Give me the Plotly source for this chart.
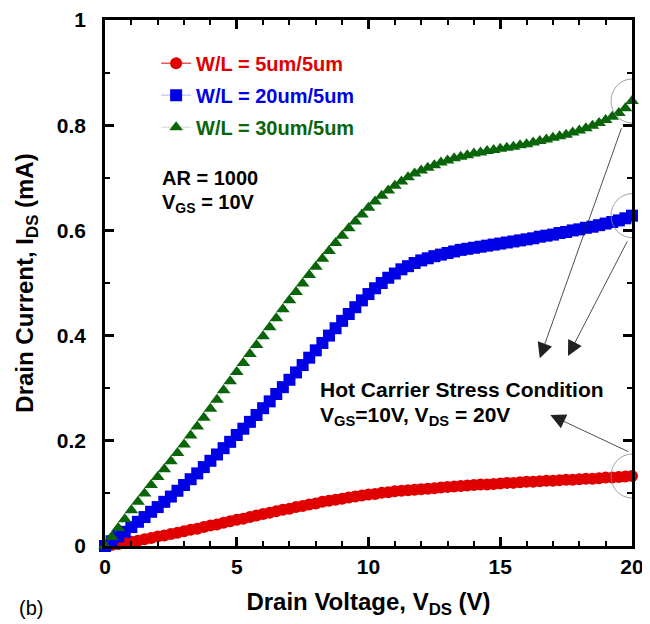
import plotly.graph_objects as go

# ---------------- data ----------------
V_DS = [0, 0.25, 0.5, 0.75, 1, 1.25, 1.5, 1.75, 2, 2.25, 2.5, 2.75, 3, 3.25, 3.5, 3.75,
        4, 4.25, 4.5, 4.75, 5, 5.25, 5.5, 5.75, 6, 6.25, 6.5, 6.75, 7, 7.25, 7.5, 7.75,
        8, 8.25, 8.5, 8.75, 9, 9.25, 9.5, 9.75, 10, 10.25, 10.5, 10.75, 11, 11.25, 11.5, 11.75,
        12, 12.25, 12.5, 12.75, 13, 13.25, 13.5, 13.75, 14, 14.25, 14.5, 14.75, 15, 15.25, 15.5, 15.75,
        16, 16.25, 16.5, 16.75, 17, 17.25, 17.5, 17.75, 18, 18.25, 18.5, 18.75, 19, 19.25, 19.5, 19.75, 20]

I_5_5 = [0.000, 0.002, 0.004, 0.006, 0.008, 0.010, 0.013, 0.015, 0.018, 0.020, 0.023, 0.025,
         0.028, 0.031, 0.033, 0.036, 0.039, 0.041, 0.044, 0.047, 0.050, 0.052, 0.055, 0.058,
         0.061, 0.063, 0.066, 0.069, 0.071, 0.074, 0.076, 0.079, 0.081, 0.084, 0.086, 0.088,
         0.090, 0.092, 0.094, 0.096, 0.098, 0.099, 0.101, 0.102, 0.104, 0.105, 0.106, 0.107,
         0.108, 0.109, 0.110, 0.111, 0.112, 0.113, 0.114, 0.115, 0.116, 0.117, 0.117, 0.118,
         0.119, 0.120, 0.120, 0.121, 0.122, 0.122, 0.123, 0.124, 0.124, 0.125, 0.126, 0.126,
         0.127, 0.128, 0.128, 0.129, 0.130, 0.130, 0.131, 0.132, 0.133]

I_20_5 = [0.000, 0.009, 0.018, 0.027, 0.036, 0.046, 0.055, 0.065, 0.074, 0.084, 0.094, 0.105,
          0.116, 0.127, 0.138, 0.150, 0.162, 0.174, 0.186, 0.198, 0.211, 0.223, 0.236, 0.249,
          0.262, 0.275, 0.289, 0.302, 0.316, 0.330, 0.344, 0.358, 0.372, 0.386, 0.400, 0.414,
          0.428, 0.441, 0.454, 0.467, 0.479, 0.490, 0.500, 0.510, 0.518, 0.526, 0.532, 0.538,
          0.543, 0.547, 0.551, 0.554, 0.557, 0.560, 0.563, 0.565, 0.567, 0.569, 0.571, 0.573,
          0.575, 0.577, 0.579, 0.581, 0.583, 0.585, 0.588, 0.590, 0.592, 0.595, 0.597, 0.600,
          0.602, 0.605, 0.607, 0.610, 0.613, 0.616, 0.619, 0.623, 0.628]

I_30_5 = [0.000, 0.017, 0.034, 0.051, 0.068, 0.084, 0.100, 0.116, 0.131, 0.146, 0.161, 0.177,
          0.193, 0.210, 0.227, 0.244, 0.261, 0.278, 0.296, 0.313, 0.331, 0.348, 0.365, 0.382,
          0.399, 0.416, 0.433, 0.450, 0.467, 0.483, 0.499, 0.515, 0.531, 0.546, 0.561, 0.576,
          0.590, 0.604, 0.617, 0.630, 0.643, 0.655, 0.666, 0.676, 0.685, 0.693, 0.701, 0.708,
          0.714, 0.719, 0.724, 0.729, 0.733, 0.737, 0.740, 0.743, 0.746, 0.748, 0.751, 0.753,
          0.755, 0.757, 0.759, 0.762, 0.764, 0.767, 0.770, 0.773, 0.776, 0.779, 0.782, 0.786,
          0.790, 0.794, 0.799, 0.804, 0.810, 0.816, 0.823, 0.832, 0.846]

SERIES_NAMES = ["W/L = 5um/5um", "W/L = 20um/5um", "W/L = 30um/5um"]
X_TICKS = [0, 5, 10, 15, 20]
Y_TICKS = [0, 0.2, 0.4, 0.6, 0.8, 1]
Y_TICK_TEXT = ["0", "0.2", "0.4", "0.6", "0.8", "1"]

# arrow annotation anchors (tip, tail) in data units
ARROWS = [((16.5, 0.357), (19.62, 0.797)),
          ((17.57, 0.361), (19.85, 0.582)),
          ((16.9, 0.249), (19.92, 0.178))]

# ---------------- styling ----------------
FONT = "Liberation Sans, Arial, Helvetica, sans-serif"
RED = "#e10000"
BLUE = "#0000e6"
GREEN = "#0a640a"

fig = go.Figure()

styles = [
    dict(color=RED, symbol="circle", size=12, line_color=RED),
    dict(color=BLUE, symbol="square", size=12, line_color="rgba(80,80,255,0.45)"),
    dict(color=GREEN, symbol="triangle-up", size=12, line_color="rgba(120,140,120,0.35)"),
]
for name, ys, st in zip(SERIES_NAMES, [I_5_5, I_20_5, I_30_5], styles):
    fig.add_trace(go.Scatter(
        x=V_DS, y=ys, mode="lines+markers",
        name=f"<span style='color:{st['color']}'><b>{name}</b></span>",
        legendgroup=name,
        line=dict(color=st["line_color"], width=1),
        marker=dict(color=st["color"], symbol=st["symbol"], size=st["size"], line=dict(width=0)),
        cliponaxis=False,
    ))

# circles around the end points
for ys in [I_5_5, I_20_5, I_30_5]:
    fig.add_shape(type="circle", xref="x", yref="y",
                  xsizemode="pixel", ysizemode="pixel",
                  xanchor=V_DS[-1], yanchor=ys[-1],
                  x0=-21, x1=21, y0=-22, y1=22,
                  line=dict(color="#8a8a8a", width=0.8))

# arrows
for (tx, ty), (sx, sy) in ARROWS:
    fig.add_annotation(x=tx, y=ty, ax=sx, ay=sy, xref="x", yref="y", axref="x", ayref="y",
                       text="", showarrow=True, arrowhead=2, arrowsize=3.8, arrowwidth=0.8,
                       arrowcolor="#222222", standoff=0, startstandoff=0)

txt_font = dict(family=FONT, size=21, color="black")
small_font = dict(family=FONT, size=20, color="black")
fig.add_annotation(x=2.09, y=0.70, xref="x", yref="y", xanchor="left", yanchor="middle",
                   text="<b>AR = 1000</b>", showarrow=False, font=small_font)
fig.add_annotation(x=2.09, y=0.679, xref="x", yref="y", xanchor="left", yanchor="top",
                   text="<b>V<sub>GS</sub> = 10V</b>", showarrow=False, font=small_font)
fig.add_annotation(x=8.1, y=0.2966, xref="x", yref="y", xanchor="left", yanchor="middle",
                   text="<b>Hot Carrier Stress Condition</b>", showarrow=False, font=txt_font)
fig.add_annotation(x=8.1, y=0.276, xref="x", yref="y", xanchor="left", yanchor="top",
                   text="<b>V<sub>GS</sub>=10V, V<sub>DS</sub> = 20V</b>", showarrow=False, font=txt_font)
fig.add_annotation(xref="paper", yref="paper", x=-0.167, y=-0.118,
                   xanchor="left", yanchor="middle", text="(b)", showarrow=False,
                   font=dict(family=FONT, size=20, color="black"))

axis_common = dict(
    showline=True, linecolor="black", linewidth=2.5, mirror="ticks",
    ticks="inside", ticklen=9, tickwidth=2.5, tickcolor="black",
    showgrid=False, zeroline=False,
    tickfont=dict(family=FONT, size=21, color="black", weight="bold"),
)

fig.update_xaxes(range=[0, 20], tickmode="array", tickvals=X_TICKS,
                 minor=dict(dtick=1, ticks="inside", ticklen=5, tickwidth=2, tickcolor="black"),
                 title=dict(text="<b>Drain Voltage, V<sub>DS</sub> (V)</b>",
                            font=dict(family=FONT, size=24, color="black"), standoff=17),
                 ticklabelstandoff=0,
                 **axis_common)
fig.update_yaxes(range=[0, 1], tickmode="array", tickvals=Y_TICKS, ticktext=Y_TICK_TEXT,
                 minor=dict(dtick=0.1, ticks="inside", ticklen=5, tickwidth=2, tickcolor="black"),
                 title=dict(text="<b>Drain Current, I<sub>DS</sub> (mA)</b>",
                            font=dict(family=FONT, size=24, color="black"), standoff=17),
                 ticklabelstandoff=12,
                 **axis_common)

# page body has an 8px margin, so the figure is sized/offset to fit the 650x624 window
fig.update_layout(
    width=642, height=616,
    margin=dict(l=97, r=18, t=12, b=78, autoexpand=False),
    paper_bgcolor="white", plot_bgcolor="white",
    showlegend=True,
    legend=dict(x=0.097, y=0.955, xanchor="left", yanchor="top",
                bgcolor="rgba(0,0,0,0)", borderwidth=0,
                font=dict(family=FONT, size=20),
                tracegroupgap=3, itemwidth=30),
    font=dict(family=FONT),
)

fig.write_html("out.html")
